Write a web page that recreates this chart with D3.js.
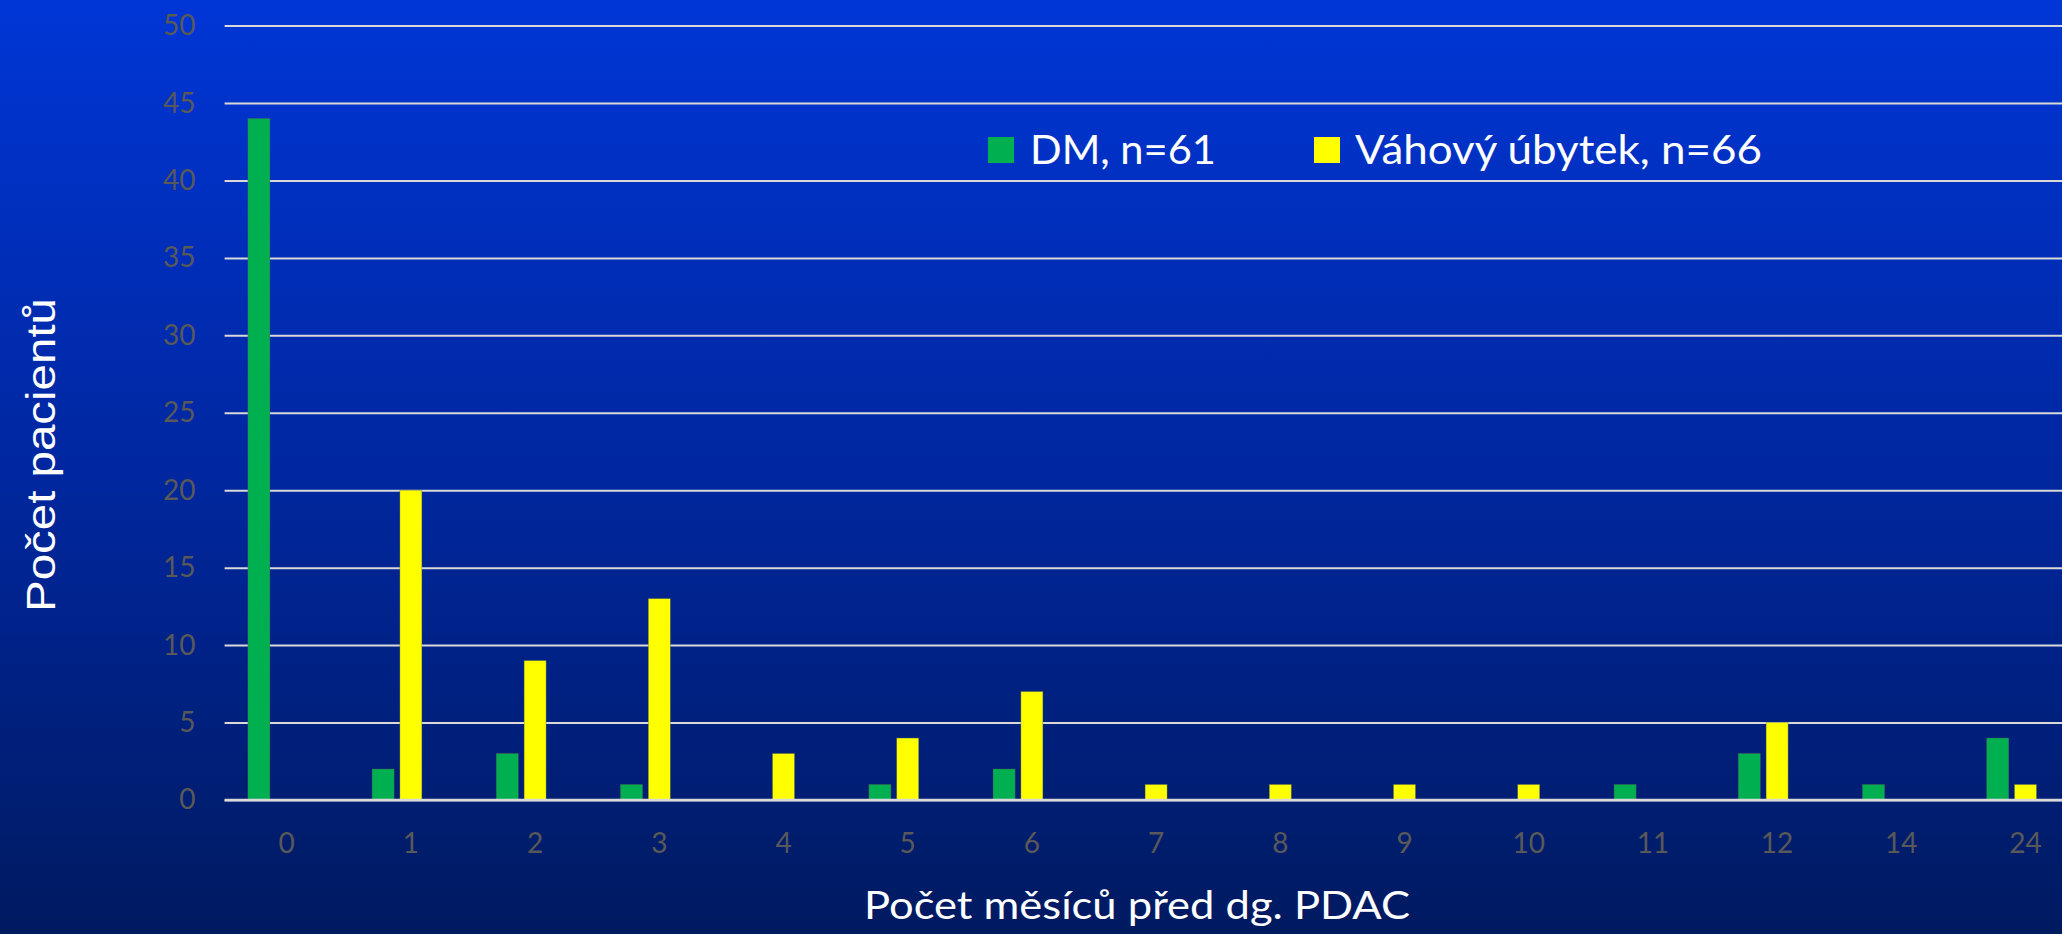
<!DOCTYPE html>
<html>
<head>
<meta charset="utf-8">
<script src="https://cdn.jsdelivr.net/npm/d3@7"></script>
<style>
  html, body { margin: 0; padding: 0; overflow: hidden; }
  svg { display: block; }
</style>
</head>
<body>
<svg id="chart" width="2062" height="934"></svg>
<script>
// ---- data ----
const categories = ["0","1","2","3","4","5","6","7","8","9","10","11","12","14","24"];
const dmValues = [44, 2, 3, 1, 0, 1, 2, 0, 0, 0, 0, 1, 3, 1, 4];
const weightLossValues = [0, 20, 9, 13, 3, 4, 7, 1, 1, 1, 1, 0, 5, 0, 1];
const seriesNames = ["DM, n=61", "Váhový úbytek, n=66"];
const seriesColors = ["#00B050", "#FFFF00"];
const yTicks = [0, 5, 10, 15, 20, 25, 30, 35, 40, 45, 50];

const W = 2062, H = 934;
const svg = d3.select("#chart");

// background gradient
const defs = svg.append("defs");
const grad = defs.append("linearGradient").attr("id", "bg").attr("x1", 0).attr("y1", 0).attr("x2", 0).attr("y2", 1);
grad.append("stop").attr("offset", "0%").attr("stop-color", "#0036D6");
grad.append("stop").attr("offset", "50%").attr("stop-color", "#0027A0");
grad.append("stop").attr("offset", "100%").attr("stop-color", "#001A60");
svg.append("rect").attr("width", W).attr("height", H).attr("fill", "url(#bg)");

const plotLeft = 224.6, plotRight = 2087.6, gridRight = 2062;
const y = d3.scaleLinear().domain([0, 50]).range([800, 25.6]);
const x0 = d3.scaleBand().domain(categories).range([plotLeft, plotRight]).paddingInner(0).paddingOuter(0);
// three slots per category (the third slot is left empty, as in the original layout)
const slotDomain = [0, 1, 2];
const groupW = 83.4;
const x1 = d3.scaleBand().domain(slotDomain)
  .range([(x0.bandwidth() - groupW) / 2, (x0.bandwidth() + groupW) / 2])
  .paddingInner(0.21).paddingOuter(0.105);

// gridlines
const yAxis = d3.axisLeft(y).tickValues(yTicks).tickSize(-(gridRight - plotLeft)).tickPadding(29).tickFormat(d3.format("d"));
const gy = svg.append("g").attr("transform", `translate(${plotLeft},0)`).call(yAxis);
gy.select(".domain").remove();
gy.selectAll(".tick line").attr("stroke", "#D9D9D9").attr("stroke-width", 2);
gy.selectAll(".tick text").attr("fill", "#595959").attr("font-family", "Lato, 'Open Sans', sans-serif").attr("font-size", 28);

// bars
const series = [dmValues, weightLossValues];
series.forEach((vals, si) => {
  svg.append("g").selectAll("rect").data(vals.map((v, i) => ({ v, c: categories[i] })))
    .join("rect")
    .filter(d => d.v > 0)
    .attr("x", d => x0(d.c) + x1(si))
    .attr("width", x1.bandwidth())
    .attr("y", d => y(d.v))
    .attr("height", d => y(0) - y(d.v))
    .attr("fill", seriesColors[si])
    .attr("stroke", "#5a6a50").attr("stroke-width", 0.6).attr("stroke-opacity", 0.6);
});

// zero line on top
svg.append("line").attr("x1", plotLeft).attr("x2", gridRight).attr("y1", y(0)).attr("y2", y(0))
  .attr("stroke", "#D9D9D9").attr("stroke-width", 2.5);

// x axis labels
const xAxis = d3.axisBottom(x0).tickSize(0).tickPadding(0);
const gx = svg.append("g").attr("transform", `translate(0,${y(0)})`).call(xAxis);
gx.select(".domain").remove();
gx.selectAll(".tick text")
  .attr("dy", null).attr("y", 53)
  .attr("fill", "#595959").attr("font-family", "Lato, 'Open Sans', sans-serif").attr("font-size", 28);

// axis titles
svg.append("text")
  .attr("transform", "translate(55,455) rotate(-90)")
  .attr("text-anchor", "middle")
  .attr("font-family", "'Liberation Sans', Arial, sans-serif")
  .attr("font-size", 40).attr("fill", "#FFFFFF")
  .attr("textLength", 314).attr("lengthAdjust", "spacingAndGlyphs")
  .text("Počet pacientů");

svg.append("text")
  .attr("x", 1137).attr("y", 919)
  .attr("text-anchor", "middle")
  .attr("font-family", "Lato, 'Open Sans', sans-serif")
  .attr("font-size", 39).attr("fill", "#FFFFFF")
  .attr("textLength", 546).attr("lengthAdjust", "spacingAndGlyphs")
  .text("Počet měsíců před dg. PDAC");

// legend
const legendItems = [
  { x: 988, tx: 1030, tl: 186 },
  { x: 1314, tx: 1355, tl: 407 }
];
const lg = svg.append("g");
legendItems.forEach((it, i) => {
  lg.append("rect").attr("x", it.x).attr("y", 137).attr("width", 26).attr("height", 26).attr("fill", seriesColors[i]);
  lg.append("text").attr("x", it.tx).attr("y", 164)
    .attr("font-family", "Lato, 'Open Sans', sans-serif").attr("font-size", 40).attr("fill", "#FFFFFF")
    .attr("textLength", it.tl).attr("lengthAdjust", "spacingAndGlyphs")
    .text(seriesNames[i]);
});
</script>
</body>
</html>
